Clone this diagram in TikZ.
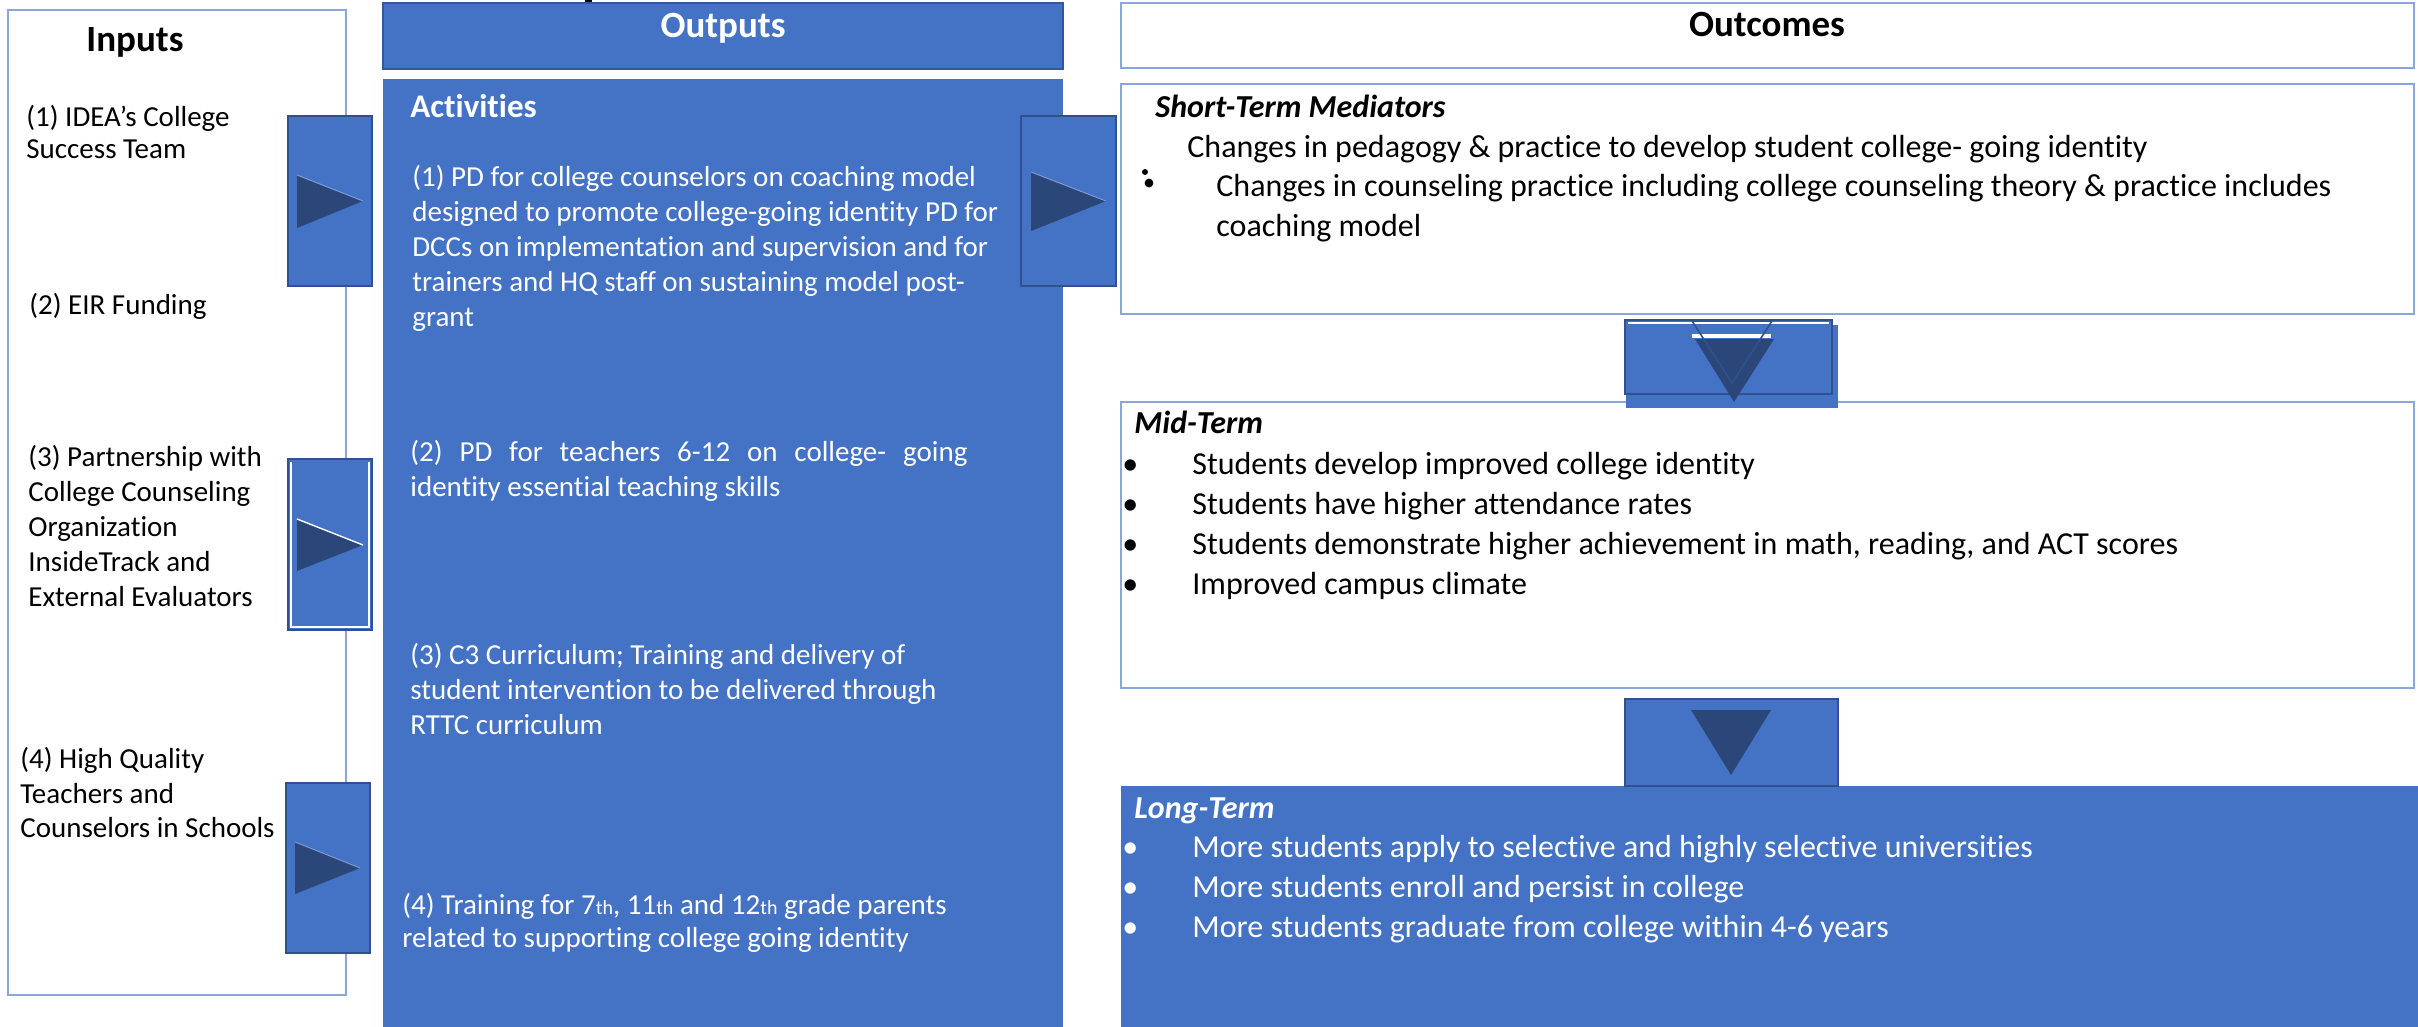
\documentclass[tikz,border=0pt]{standalone}
\usepackage{fontspec}
\setmainfont[Ligatures=NoCommon]{Carlito}
\definecolor{mainblue}{HTML}{4472C4}
\definecolor{edgeblue}{HTML}{2F528F}
\definecolor{frameblue}{HTML}{8AA7DC}
\definecolor{tridark}{HTML}{2B4679}
\definecolor{trilight}{HTML}{7D9CD6}
\begin{document}
\begin{tikzpicture}[x=0.5pt,y=-0.5pt,
  frame/.style={draw=frameblue,line width=0.8pt,fill=white},
  blockbox/.style={draw=edgeblue,line width=0.8pt,fill=mainblue},
  trifill/.style={fill=tridark},
  trihigh/.style={draw=trilight,line width=0.5pt},
  txt/.style={anchor=north west,inner sep=0pt,align=left},
  head/.style={anchor=base,inner sep=0pt,font=\fontsize{18.5}{22}\selectfont\bfseries},
  sub/.style={anchor=base west,inner sep=0pt,font=\fontsize{16}{19}\selectfont\bfseries\itshape},
  body/.style={font=\fontsize{14.5}{17.5}\selectfont},
  outbody/.style={font=\fontsize{16}{20}\selectfont}
]
\useasboundingbox (0,0) rectangle (2418,1027);
\fill[white] (0,0) rectangle (2418,1027);

% ---- column frames ----
\draw[frame] (8,10) rectangle (346,995);
\fill[black] (585,0) rectangle (592,4);
\draw[fill=mainblue,draw=edgeblue!80!mainblue,line width=1pt] (383,3) rectangle (1063,69);
\fill[mainblue] (383,79) rectangle (1063,1027);
\draw[frame] (1121,3) rectangle (2414,68);
\draw[frame] (1121,84) rectangle (2414,314);
\draw[frame] (1121,402) rectangle (2414,688);
\fill[mainblue] (1121,786) rectangle (2418,1027);

% ---- right-pointing blocks ----
\draw[blockbox] (288,116) rectangle (372,286);
\fill[trifill] (297,175) -- (363,201) -- (297,228) -- cycle;
\draw[trihigh] (297,175) -- (363,201);

\draw[blockbox] (1021,116) rectangle (1116,286);
\fill[trifill] (1031,172) -- (1106,201) -- (1031,231) -- cycle;
\draw[trihigh] (1031,172) -- (1106,201);

\draw[blockbox] (288,459) rectangle (372,630);
\draw[white,line width=0.6pt] (291,462) -- (291,627) -- (369,627) -- (369,462);
\fill[trifill] (297,519) -- (363,545) -- (297,571) -- cycle;
\draw[white,line width=0.7pt] (297,519) -- (363,545);

\draw[blockbox] (286,783) rectangle (370,953);
\fill[trifill] (295,842) -- (360,868) -- (295,894) -- cycle;
\draw[trihigh] (295,842) -- (360,868);

% ---- downward blocks ----
\fill[mainblue] (1626,325) rectangle (1838,408);
\draw[blockbox] (1625,320) rectangle (1832,394);
\draw[white,line width=0.8pt] (1628,323) -- (1829,323);
\fill[white] (1692,334) rectangle (1771,338);
\fill[trifill] (1695,339) -- (1774,339) -- (1734,402) -- cycle;
\draw[edgeblue,line width=0.8pt] (1692,321) -- (1772,321) -- (1732,383) -- cycle;

\draw[blockbox] (1625,699) rectangle (1838,786);
\fill[trifill] (1691,710) -- (1771,710) -- (1731,775) -- cycle;

% ---- Inputs ----
\node[head] (inhead) at (135,52) {Inputs};
\node[txt,body,font=\fontsize{14.5}{16}\selectfont] (in1) at (26,105) {(1) IDEA’s College\\Success Team};
\node[txt,body] (in2) at (29,293) {(2) EIR Funding};
\node[txt,body] (in3) at (28,445) {(3) Partnership with\\College Counseling\\Organization\\InsideTrack and\\External Evaluators};
\node[txt,body,font=\fontsize{14.5}{17.25}\selectfont] (in4) at (20,747) {(4) High Quality\\Teachers and\\Counselors in Schools};

% ---- Outputs ----
\node[head,text=white] (outhead) at (723,38) {Outputs};
\node[anchor=base west,inner sep=0pt,text=white,font=\fontsize{16.5}{20}\selectfont\bfseries] (acthead) at (410,118) {Activities};
\node[txt,body,text=white] (act1) at (412,165) {(1) PD for college counselors on coaching model\\designed to promote college-going identity PD for\\DCCs on implementation and supervision and for\\trainers and HQ staff on sustaining model post-\\grant};
\node[txt,body,text=white] (act2) at (410,440) {\makebox[278.5pt][s]{(2) PD for teachers 6-12 on college- going}\\identity essential teaching skills};
\node[txt,body,text=white] (act3) at (410,643) {(3) C3 Curriculum; Training and delivery of\\student intervention to be delivered through\\RTTC curriculum};
\node[txt,body,text=white,font=\fontsize{14.5}{16.5}\selectfont] (act4) at (402,893) {(4) Training for 7{\fontsize{10}{10}\selectfont th}, 11{\fontsize{10}{10}\selectfont th} and 12{\fontsize{10}{10}\selectfont th} grade parents\\related to supporting college going identity};

% ---- Outcomes ----
\node[head] (outchead) at (1767,37) {Outcomes};
\node[sub] (shorthead) at (1155,118) {Short-Term Mediators};
\node[txt,outbody] (short1) at (1187,135) {Changes in pedagogy \& practice to develop student college- going identity};
\node[txt,outbody] (short2) at (1216,174) {Changes in counseling practice including college counseling theory \& practice includes\\coaching model};
\fill[black] (1145,172) circle[radius=1.5pt];
\fill[black] (1149,183) circle[radius=2.2pt];

\node[sub] (midhead) at (1134,433) {Mid-Term};
\node[txt,outbody] (midlist) at (1122,452) {\makebox[35pt][l]{•}Students develop improved college identity\\
\makebox[35pt][l]{•}Students have higher attendance rates\\
\makebox[35pt][l]{•}Students demonstrate higher achievement in math, reading, and ACT scores\\
\makebox[35pt][l]{•}Improved campus climate};

\node[sub,text=white] (longhead) at (1134,818) {Long-Term};
\node[txt,outbody,text=white] (longlist) at (1122,835) {\makebox[35pt][l]{•}More students apply to selective and highly selective universities\\
\makebox[35pt][l]{•}More students enroll and persist in college\\
\makebox[35pt][l]{•}More students graduate from college within 4-6 years};
\end{tikzpicture}
\end{document}
